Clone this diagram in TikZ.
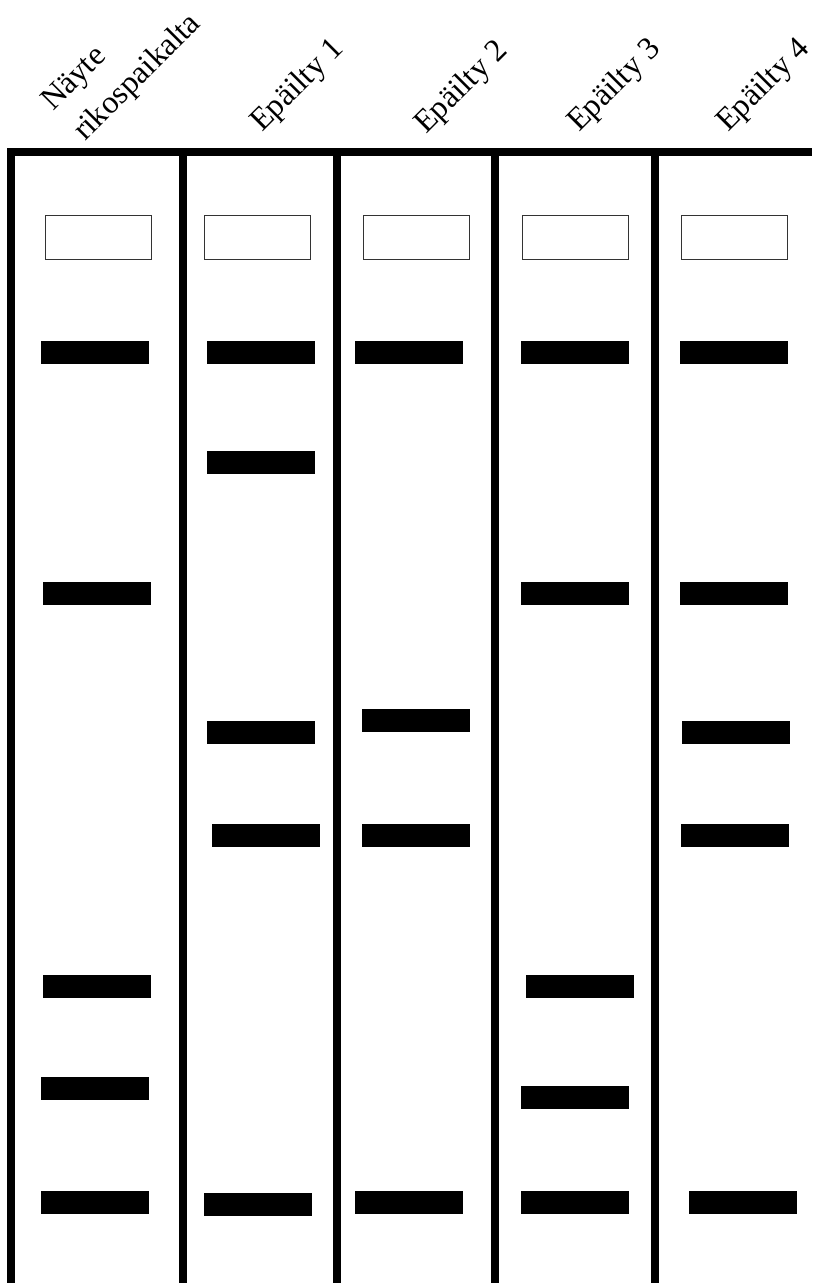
\documentclass[tikz,border=0pt]{standalone}
\usepackage{fontspec}
\setmainfont{Liberation Serif}

\begin{document}
\begin{tikzpicture}[x=1pt, y=-1pt, every node/.style={font=\fontsize{32}{44}\selectfont},
  gel/.style={line width=8pt},
  well/.style={draw=black!80, line width=1.5pt, minimum width=106pt, minimum height=44pt, inner sep=0pt},
  band/.style={fill=black, minimum width=108pt, minimum height=23pt, inner sep=0pt},
  lbl/.style={rotate=45, anchor=base west, inner sep=0pt}]
  \useasboundingbox (0,0) rectangle (812,1283);

  % labels
  \node[lbl] (nayte) at (53,112) {Näyte};
  \node[lbl] (rikos) at (85,142) {rikospaikalta};
  \node[lbl] (ep1) at (262,133) {Epäilty 1};
  \node[lbl] (ep2) at (426,135) {Epäilty 2};
  \node[lbl] (ep3) at (579,133) {Epäilty 3};
  \node[lbl] (ep4) at (728,133) {Epäilty 4};

  % gel frame
  \draw[gel] (11,1283) -- (11,152) -- (812,152);
  \draw[gel] (183,152) -- (183,1283);
  \draw[gel] (337,152) -- (337,1283);
  \draw[gel] (495,152) -- (495,1283);
  \draw[gel] (655,152) -- (655,1283);

  % wells
  \node[well] (w1) at (98.5,237.5) {};
  \node[well] (w2) at (257.5,237.5) {};
  \node[well] (w3) at (416.5,237.5) {};
  \node[well] (w4) at (575.5,237.5) {};
  \node[well] (w5) at (734.5,237.5) {};

  % bands, crime scene sample
  \node[band] (b1a) at (95,352.5) {};
  \node[band] (b1b) at (97,593.5) {};
  \node[band] (b1c) at (97,986.5) {};
  \node[band] (b1d) at (95,1088.5) {};
  \node[band] (b1e) at (95,1202.5) {};
  % suspect 1
  \node[band] (b2a) at (261,352.5) {};
  \node[band] (b2b) at (261,462.5) {};
  \node[band] (b2c) at (261,732.5) {};
  \node[band] (b2d) at (266,835.5) {};
  \node[band] (b2e) at (258,1204.5) {};
  % suspect 2
  \node[band] (b3a) at (409,352.5) {};
  \node[band] (b3b) at (416,720.5) {};
  \node[band] (b3c) at (416,835.5) {};
  \node[band] (b3d) at (409,1202.5) {};
  % suspect 3
  \node[band] (b4a) at (575,352.5) {};
  \node[band] (b4b) at (575,593.5) {};
  \node[band] (b4c) at (580,986.5) {};
  \node[band] (b4d) at (575,1097.5) {};
  \node[band] (b4e) at (575,1202.5) {};
  % suspect 4
  \node[band] (b5a) at (734,352.5) {};
  \node[band] (b5b) at (734,593.5) {};
  \node[band] (b5c) at (736,732.5) {};
  \node[band] (b5d) at (735,835.5) {};
  \node[band] (b5e) at (743,1202.5) {};
\end{tikzpicture}
\end{document}
